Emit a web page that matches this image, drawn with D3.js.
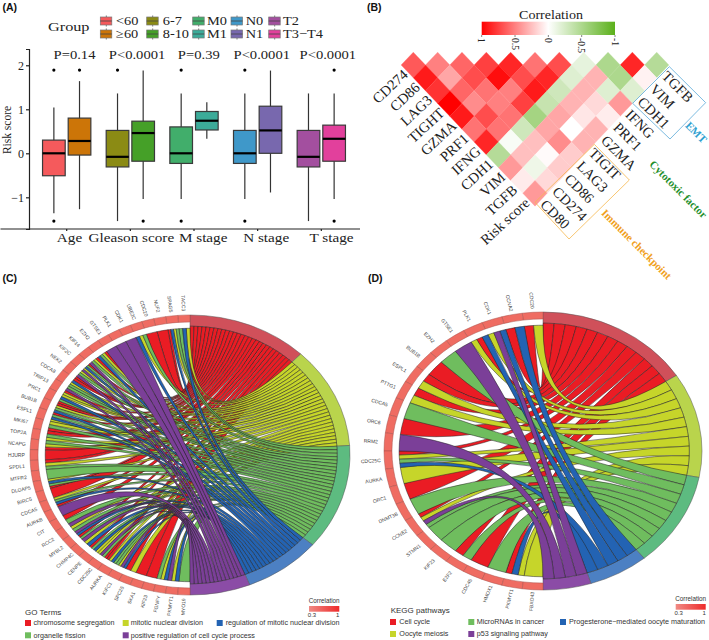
<!DOCTYPE html>
<html>
<head>
<meta charset="utf-8">
<script src="https://cdn.jsdelivr.net/npm/d3@7"></script>
<style>
  html, body { margin: 0; padding: 0; background: #fff; }
  svg { display: block; }
  .serif { font-family: "Liberation Serif", serif; fill: #222; }
  .sans { font-family: "Liberation Sans", Arial, sans-serif; fill: #333; }
</style>
</head>
<body>
<svg id="chart" width="709" height="640"></svg>
<script>
// panel A
const groupNames = ["Age", "Gleason score", "M stage", "N stage", "T stage"];
const pLabels = ["P=0.14", "P<0.0001", "P=0.39", "P<0.0001", "P<0.0001"];
const subLabels = ["<60", "≥60", "6-7", "8-10", "M0", "M1", "N0", "N1", "T2", "T3−T4"];
const subColors = ["#f55a5c", "#cc7508", "#8b8b14", "#45a028", "#41ae6b", "#3cab99", "#3f98c9", "#7868ae", "#a34f9f", "#e2409c"];
const boxQ1 = [-0.51, -0.04, -0.31, -0.18, -0.23, 0.53, -0.23, 0, -0.31, -0.18];
const boxMedian = [0, 0.28, -0.08, 0.46, 0, 0.74, 0, 0.52, -0.08, 0.33];
const boxQ3 = [0.30, 0.80, 0.52, 0.73, 0.60, 0.95, 0.52, 1.07, 0.52, 0.64];
const whiskerLow = [-1.36, -1.27, -1.54, -1.04, -1.04, 0.33, -1.04, -0.89, -1.54, -1.04];
const whiskerHigh = [1.04, 1.64, 1.36, 1.88, 1.36, 1.16, 1.36, 1.88, 1.36, 1.36];
const boxOutliers = [[1.89, -1.54], [1.89], [1.89], [-1.54], [1.89, -1.54], [], [1.89, -1.54], [], [], [1.89, -1.54]];

// panel B
const leftGenes = ["CD274", "CD86", "LAG3", "TIGHT", "GZMA", "PRF1", "IFNG", "CDH1", "VIM", "TGFB", "Risk score"];
const rightGenes = ["TGFB", "VIM", "CDH1", "IFNG", "PRF1", "GZMA", "TIGIT", "LAG3", "CD86", "CD274", "CD80"];
// one list per horizontal row of diamonds, top row first
const corrRows = [
  [0.65, 0.5, 0.6, 0.75, 0.85, 0.55, 0.7, -0.15, -0.5, 0.85, -0.45],
  [0.9, 0.35, 0.7, 0.95, 0.7, 0.85, -0.2, 0.3, -0.5, 0.05],
  [0.8, 0.6, 0.55, 0.5, 0.9, -0.3, 0.3, -0.2, -0.2],
  [1, 0.45, 0.5, 0.75, -0.35, 0.3, 0.15, 0.4],
  [0.9, 0.7, 0.55, -0.55, 0.35, 0.1, 0.07],
  [0.55, 0.55, -0.3, 0.35, 0, 0.3],
  [0.85, -0.04, 0.25, 0.45, 0.3],
  [-0.45, 0.25, 0.02, 0.2],
  [0.4, -0.1, 0.2],
  [0.08, 0.15],
  [0.4]
];
const corrTicks = [1, 0.5, 0, -0.5, -1];

// panels C and D: the letters are the terms of each gene, read top to bottom
const termKeys = ["R", "Y", "G", "B", "P"];
const chordColors = ["#ea1c24", "#c6d52a", "#6fbd5e", "#2363b3", "#7b3f98"];
const termArcColors = ["#d0505a", "#b9d44c", "#5dbb80", "#4c80c3", "#8b4ca6"];
const goGenes = ["TACC3", "SPAG5", "NUF2", "CDC20", "UBE2C", "CDK1", "PLK1", "GTSE1", "EZH2", "KIF14", "KIF2C", "NEK2", "CDCA8", "TRIP13",
  "PRC1", "BUB1B", "ESPL1", "MKI67", "TOP2A", "NCAPG", "HJURP", "SPDL1", "MTFR2", "DLGAP5", "BIRC5", "CDCA5", "AURKB", "CIT", "RCC2",
  "MYBL2", "CHMP4C", "CENPE", "CDC25C", "AURKA", "KIFC1", "SPC25", "SKA1", "KIF23", "FGNFY", "PKMYT1", "MYO19"];
const goLinks = ["YBG", "GYBR", "R", "R", "GYB", "P", "P", "P", "RYGB", "RYGP", "RGBYP", "YGPR", "RBYG", "GPRY",
  "YBGR", "RYGB", "RGBY", "YGR", "RGY", "GYR", "R", "RYG", "G", "YBGR", "R", "YGBR", "P", "RG", "PYG",
  "PBRG", "PYB", "RGBY", "YPGR", "RYBG", "GYPB", "RY", "R", "R", "GYB", "PYB", "G"];
const goTerms = ["chromosome segregation", "organelle fission", "mitotic nuclear division", "positive regulation of cell cycle process", "regulation of mitotic nuclear division"];
const goTermColors = ["#ea1c24", "#6fbd5e", "#c6d52a", "#7b3f98", "#2363b3"];
const keggGenes = ["CDC20", "CCNA2", "CDK1", "PLK1", "GTSE1", "EZH2", "BUB1B", "ESPL1", "PTTG1", "CDCA5", "ORC6", "RRM2", "CDC25C", "AURKA",
  "ORC1", "DNMT3B", "CCNE2", "STMN1", "KIF23", "E2F2", "CDC45", "HMOX1", "PKMYT1", "FBXO43"];
const keggLinks = ["YR", "BR", "BPY", "BRY", "P", "G", "R", "RY", "RY", "G", "R", "P", "RYGB", "Y",
  "R", "G", "RYPG", "G", "G", "RG", "R", "G", "RBY", "Y"];
const keggTerms = ["Cell cycle", "Oocyte meiosis", "MicroRNAs in cancer", "p53 signaling pathway", "Progesterone−mediated oocyte maturation"];
const keggTermColors = ["#ea1c24", "#c6d52a", "#6fbd5e", "#7b3f98", "#2363b3"];

const svg = d3.select("#chart");

function stretched(sel, x, y, sx) {
  return sel.attr("transform", `translate(${x},${y}) scale(${sx},1)`);
}

function panelTag(text, x, y) {
  svg.append("text").attr("class", "sans").attr("x", x).attr("y", y)
    .attr("font-size", 10.5).attr("font-weight", "bold").style("fill", "#111").text(text);
}

function drawBoxPanel() {
  const g = svg.append("g");
  const x = d3.scaleBand().domain(groupNames).range([28.5, 359.5]).paddingInner(0).paddingOuter(0.1);
  const y = d3.scaleLinear().domain([-1.72, 2.37]).range([229, 49]);
  const sub = d3.scaleBand().domain([0, 1]).range([-24.15, 24.15]).paddingInner(0.117);
  const labelShift = [2.8, 1, 9.2, 8.5, 10.2];

  const yAxis = g.append("g").attr("transform", "translate(29,0)")
    .call(d3.axisLeft(y).tickValues([-1, 0, 1, 2]).tickSize(3).tickPadding(2)
      .tickFormat(d => d < 0 ? "−" + Math.abs(d) : d));
  yAxis.selectAll("text").attr("class", "serif").attr("font-size", 12);

  const xAxis = g.append("g").attr("transform", "translate(0,229)")
    .call(d3.axisBottom(x).tickSize(2).tickPadding(5));
  xAxis.select(".domain").attr("d", "M0.5,0H360");
  xAxis.selectAll("text").attr("class", "serif").attr("font-size", 13)
    .attr("y", 0).attr("dy", 13.5)
    .attr("transform", (d, i) => `translate(${labelShift[i]},0) scale(1.17,1)`);
  g.selectAll(".domain, .tick line").attr("stroke", "#222").attr("stroke-width", 1.2);

  subLabels.forEach((label, i) => {
    const group = groupNames[Math.floor(i / 2)];
    const left = x(group) + x.bandwidth() / 2 + sub(i % 2);
    const mid = left + sub.bandwidth() / 2;
    g.append("line").attr("x1", mid).attr("x2", mid).attr("y1", y(whiskerLow[i])).attr("y2", y(whiskerHigh[i]))
      .attr("stroke", "#333").attr("stroke-width", 1.2);
    g.append("rect").attr("x", left).attr("width", sub.bandwidth())
      .attr("y", y(boxQ3[i])).attr("height", y(boxQ1[i]) - y(boxQ3[i]))
      .attr("fill", subColors[i]).attr("stroke", "#3a3a3a").attr("stroke-width", 1.2);
    g.append("line").attr("x1", left).attr("x2", left + sub.bandwidth())
      .attr("y1", y(boxMedian[i])).attr("y2", y(boxMedian[i]))
      .attr("stroke", "#000").attr("stroke-width", 2.2);
    g.selectAll(null).data(boxOutliers[i]).enter().append("circle")
      .attr("cx", mid).attr("cy", d => y(d)).attr("r", 1.6).attr("fill", "#000");
  });

  const pShift = [7.8, 6.7, 4.8, 4.1, 6.5];
  pLabels.forEach((p, i) => {
    const t = g.append("text").attr("class", "serif").attr("font-size", 12.7).attr("text-anchor", "middle").text(p);
    stretched(t, x(groupNames[i]) + x.bandwidth() / 2 + pShift[i], 59, 1.15);
  });

  g.append("text").attr("class", "serif").attr("font-size", 11.5).attr("text-anchor", "middle")
    .attr("transform", "translate(11,130) rotate(-90)").text("Risk score");

  // legend
  stretched(g.append("text").attr("class", "serif").attr("font-size", 13).text("Group"), 48, 31, 1.25);
  const keyX = [100.3, 146.7, 192.7, 231, 268.7];
  const keyTextX = [116, 162.7, 207, 245.7, 283];
  const keyY = [17, 30];
  subLabels.forEach((label, i) => {
    const col = Math.floor(i / 2), row = i % 2;
    const k = g.append("g").attr("transform", `translate(${keyX[col]},${keyY[row]})`);
    k.append("line").attr("x1", 6).attr("x2", 6).attr("y1", -1.5).attr("y2", 9.5).attr("stroke", "#555").attr("stroke-width", 0.8);
    k.append("rect").attr("width", 11.5).attr("height", 8).attr("fill", subColors[i]).attr("stroke", "#777").attr("stroke-width", 0.7);
    k.append("line").attr("x1", 0).attr("x2", 11.5).attr("y1", 4).attr("y2", 4).attr("stroke", "#444").attr("stroke-width", 0.8);
    const t = g.append("text").attr("class", "serif").attr("font-size", 12.5).text(label);
    stretched(t, keyTextX[col], keyY[row] + 8, 1.15);
  });
}

function drawCorrPanel() {
  const g = svg.append("g");
  const hx = d3.scaleLinear().domain([0, 1]).range([413.3, 425.47]);
  const hy = d3.scaleLinear().domain([0, 1]).range([65, 77.83]);
  const color = d3.scaleLinear().domain([1, 0, -1]).range(["#ff0000", "#ffffff", "#5bb01b"]);
  const diamond = d3.line().x(d => hx(d[0])).y(d => hy(d[1]));

  corrRows.forEach((row, t) => {
    row.forEach((v, c) => {
      const i = t + 2 * c;
      g.append("path").attr("d", diamond([[i - 1, t], [i, t - 1], [i + 1, t], [i, t + 1]]) + "Z")
        .attr("fill", color(v)).attr("stroke", color(v)).attr("stroke-width", 0.3);
    });
  });

  leftGenes.forEach((name, l) => {
    g.append("text").attr("class", "serif").attr("font-size", 14.5).attr("text-anchor", "end").attr("dy", "0.35em")
      .attr("transform", `translate(${hx(l) - 8},${hy(l) + 7}) rotate(-43)`).text(name);
  });
  rightGenes.forEach((name, t) => {
    g.append("text").attr("class", "serif").attr("font-size", 14.5).attr("dy", "0.35em")
      .attr("transform", `translate(${hx(20 - t) + 8},${hy(t) + 8.5}) rotate(45)`).text(name);
  });

  // colour bar
  const barX = d3.scaleLinear().domain([1, -1]).range([481.7, 615]);
  const grad = svg.append("defs").append("linearGradient").attr("id", "corrBar");
  corrTicks.forEach((v, i) => {
    grad.append("stop").attr("offset", (i * 25) + "%").attr("stop-color", color(v));
  });
  g.append("rect").attr("x", barX(1)).attr("y", 21.7).attr("width", barX(-1) - barX(1)).attr("height", 13.3).attr("fill", "url(#corrBar)");
  corrTicks.forEach(v => {
    g.append("line").attr("x1", barX(v)).attr("x2", barX(v)).attr("y1", 35).attr("y2", 37).attr("stroke", "#333").attr("stroke-width", 0.6);
    g.append("text").attr("class", "serif").attr("font-size", 9.5).attr("dy", "0.35em")
      .attr("transform", `translate(${barX(v)},38) rotate(90)`).text(v);
  });
  stretched(g.append("text").attr("class", "serif").attr("font-size", 13).attr("text-anchor", "middle").text("Correlation"), 551, 18.5, 1.08);

  // group outlines and names
  const outline = d3.line().x(d => 360 + d[0] / 3).y(d => d[1] / 3);
  g.append("path").attr("d", outline([[703, 433], [808, 540], [627, 717], [525, 607]]) + "Z")
    .attr("fill", "none").attr("stroke", "#f6b84e").attr("stroke-width", 0.8);
  g.append("path").attr("d", outline([[928, 200], [1037, 308], [930, 417], [818, 310]]) + "Z")
    .attr("fill", "none").attr("stroke", "#5aaad8").attr("stroke-width", 0.8);
  const notes = [["EMT", 693.5, 135, "#2e9fd0"], ["Cytotoxic factor", 675.7, 192, "#1f8f2b"], ["Immune checkpoint", 634, 247, "#f0a020"]];
  notes.forEach(n => {
    g.append("text").attr("class", "serif").attr("font-size", 11).attr("font-weight", "bold").attr("text-anchor", "middle")
      .attr("transform", `translate(${n[1]},${n[2]}) rotate(45)`).style("fill", n[3]).text(n[0]);
  });
}

function drawChordPanel(cfg) {
  const outer = svg.append("g").attr("transform", `translate(${cfg.cx},${cfg.cy})`);
  const g = outer.append("g").attr("transform", `scale(${cfg.rx / 100},${cfg.ry / 100})`);
  const total = d3.sum(cfg.links, d => d.length);
  const stripAngle = Math.PI / total;
  const cellAngle = Math.PI / cfg.genes.length;
  const ribbon = d3.ribbon();
  const arc = d3.arc();

  let start = 0;
  termKeys.forEach((key, t) => {
    const count = d3.sum(cfg.links, d => d.split(key).length - 1);
    const end = start + count * stripAngle;
    g.append("path").attr("d", arc({ innerRadius: 92, outerRadius: 100, startAngle: start, endAngle: end }))
      .attr("fill", termArcColors[t]).attr("stroke", "#555").attr("stroke-width", 0.5).attr("vector-effect", "non-scaling-stroke");

    let a = start;
    cfg.links.forEach((terms, i) => {
      const k = terms.indexOf(key);
      if (k < 0) return;
      const n = terms.length;
      g.append("path").attr("d", ribbon({
        source: { startAngle: a, endAngle: a + stripAngle, radius: 92 },
        target: { startAngle: -(i + (k + 1) / n) * cellAngle, endAngle: -(i + k / n) * cellAngle, radius: 90.5 }
      }))
        .attr("fill", chordColors[t]).attr("stroke", "#222").attr("stroke-width", 0.5).attr("vector-effect", "non-scaling-stroke");
      a += stripAngle;
    });
    start = end;
  });

  cfg.genes.forEach((name, i) => {
    g.append("path").attr("d", arc({ innerRadius: 95, outerRadius: 100, startAngle: -(i + 1) * cellAngle, endAngle: -i * cellAngle }))
      .attr("fill", "#ef6c62").attr("stroke", "#a8524c").attr("stroke-width", 0.5).attr("vector-effect", "non-scaling-stroke");
    const theta = -(i + 0.5) * cellAngle;
    const dx = Math.sin(theta) * cfg.rx, dy = -Math.cos(theta) * cfg.ry;
    const rot = Math.atan2(-dy, -dx) * 180 / Math.PI;
    outer.append("text").attr("class", "sans").attr("font-size", 5).attr("text-anchor", "middle").attr("dy", "0.35em")
      .attr("transform", `translate(${dx * 1.085},${dy * 1.085}) rotate(${rot})`).style("fill", "#444").text(name);
  });

  // term legend
  const l = cfg.legend;
  svg.append("text").attr("class", "sans").attr("x", l.x).attr("y", l.titleY).attr("font-size", 8).text(cfg.title);
  cfg.terms.forEach((term, i) => {
    const col = i < 4 ? Math.floor(i / 2) : 2;
    const row = i < 4 ? i % 2 : 0;
    svg.append("rect").attr("x", l.squareX[col]).attr("y", l.rowY[row]).attr("width", 6).attr("height", 6).attr("fill", cfg.termColors[i]);
    svg.append("text").attr("class", "sans").attr("x", l.textX[col]).attr("y", l.rowY[row] + 5.3).attr("font-size", 7.2).text(term);
  });

  // correlation key
  const id = "corrKey" + cfg.title.charAt(0);
  const grad = svg.append("defs").append("linearGradient").attr("id", id);
  grad.append("stop").attr("offset", "0%").attr("stop-color", "#f08a84");
  grad.append("stop").attr("offset", "100%").attr("stop-color", "#ee2b2b");
  const b = cfg.bar;
  svg.append("text").attr("class", "sans").attr("x", b.x + b.w / 2).attr("y", b.y - 2.8).attr("font-size", 6.3).attr("text-anchor", "middle").text("Correlation");
  svg.append("rect").attr("x", b.x).attr("y", b.y).attr("width", b.w).attr("height", 5.7).attr("fill", `url(#${id})`);
  svg.append("text").attr("class", "sans").attr("x", b.x + 3).attr("y", b.y + 11).attr("font-size", 6).attr("text-anchor", "middle").text("0.3");
  svg.append("text").attr("class", "sans").attr("x", b.x + b.w - 1.6).attr("y", b.y + 11).attr("font-size", 6).attr("text-anchor", "middle").text("1");
}

drawBoxPanel();
drawCorrPanel();
drawChordPanel({
  cx: 190, cy: 455, rx: 160, ry: 140, genes: goGenes, links: goLinks, title: "GO Terms", terms: goTerms, termColors: goTermColors,
  legend: { x: 25, titleY: 615, squareX: [25, 122.7, 216.7], textX: [33.5, 130.7, 225.7], rowY: [620, 632.3] },
  bar: { x: 309, y: 606, w: 30.3 }
});
drawChordPanel({
  cx: 543, cy: 451, rx: 159, ry: 139, genes: keggGenes, links: keggLinks, title: "KEGG pathways", terms: keggTerms, termColors: keggTermColors,
  legend: { x: 390.7, titleY: 613, squareX: [390, 468.3, 560], textX: [399.3, 476.7, 569], rowY: [619, 631] },
  bar: { x: 675.7, y: 604, w: 30 }
});
panelTag("(A)", 2.5, 11);
panelTag("(B)", 367, 11);
panelTag("(C)", 2.5, 282);
panelTag("(D)", 368, 282);
</script>
</body>
</html>
